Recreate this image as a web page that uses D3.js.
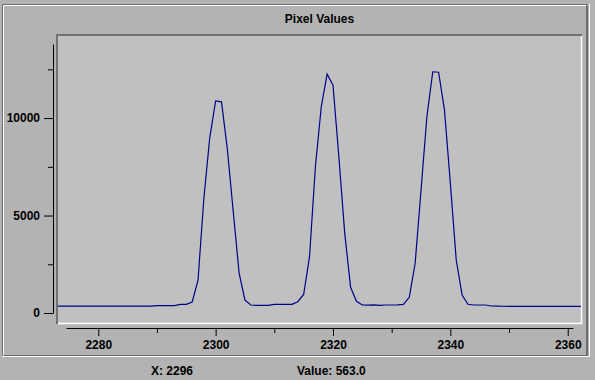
<!DOCTYPE html>
<html>
<head>
<meta charset="utf-8">
<script src="https://cdn.jsdelivr.net/npm/d3@7"></script>
<style>
body { margin: 0; background: #b3b3b3; }
text { font-family: "Liberation Sans", Arial, sans-serif; font-weight: bold; font-size: 12px; fill: #000; }
</style>
</head>
<body>
<svg id="chart" width="595" height="380"></svg>
<script>
// pixel column -> value, one entry per column starting at firstPixel
var firstPixel = 2273;
var pixelValues = [
    355, 355, 355, 355, 355, 355, 355, 355, 355, 355,   // 2273-2282
    355, 355, 355, 355, 355, 355, 355, 380, 380, 380,   // 2283-2292
    380, 446, 446, 563, 1690, 5900, 9000, 10880, 10830, 8400, // 2293-2302
    5200, 2050, 660, 410, 393, 393, 393, 440, 440, 440, // 2303-2312
    446, 580, 950, 2890, 7500, 10580, 12256, 11692, 8015, 4087, // 2313-2322
    1318, 600, 410, 400, 420, 390, 410, 410, 420, 446,  // 2323-2332
    805, 2550, 6300, 10070, 12375, 12350, 10410, 6650, 2718, 923, // 2333-2342
    446, 410, 410, 410, 360, 350, 345, 345, 345, 345,   // 2343-2352
    345, 345, 345, 345, 345, 345, 345, 345, 345, 345,   // 2353-2362
    345                                                 // 2363
];

var xTicks = [2280, 2300, 2320, 2340, 2360];
var xMinorTicks = [2290, 2310, 2330, 2350];
var yTicks = [0, 5000, 10000];
var yMinorTicks = [2500, 7500, 12500];

var chartTitle = "Pixel Values";
var cursorX = 2296;
var cursorValue = 563.0;

var svg = d3.select("#chart");

var data = pixelValues.map(function(v, i) { return { px: firstPixel + i, value: v }; });

var x = d3.scaleLinear().domain([2274.5, 2360.9]).range([66, 573]);
var y = d3.scaleLinear().domain([0, 13800]).range([313, 44]);

// outer etched frame
var frame = svg.append("g");
frame.append("rect").attr("x", 2.5).attr("y", 4.5).attr("width", 585).attr("height", 351)
    .attr("fill", "none").attr("stroke", "#6e6e6e");
frame.append("polyline").attr("points", "3.5,355.5 3.5,5.5 587.5,5.5")
    .attr("fill", "none").attr("stroke", "#ffffff");
frame.append("polyline").attr("points", "2,356.5 589.5,356.5 589.5,4")
    .attr("fill", "none").attr("stroke", "#ffffff");
frame.append("line").attr("x1", 586.5).attr("y1", 5).attr("x2", 586.5).attr("y2", 355)
    .attr("stroke", "#6e6e6e");

// title
svg.append("text")
    .attr("x", 319.5).attr("y", 23)
    .attr("text-anchor", "middle")
    .text(chartTitle);

// plot area
svg.append("rect").attr("x", 57).attr("y", 34).attr("width", 525).attr("height", 290)
    .attr("fill", "#c0c0c0");
svg.append("polyline").attr("points", "57,324 57,35 582,35")
    .attr("fill", "none").attr("stroke", "#717171").attr("stroke-width", 2);
svg.append("polyline").attr("points", "58,323.5 581.5,323.5 581.5,36")
    .attr("fill", "none").attr("stroke", "#ffffff").attr("stroke-width", 1.5);

svg.append("clipPath").attr("id", "plotClip")
  .append("rect").attr("x", 58).attr("y", 36).attr("width", 523).attr("height", 287);

var line = d3.line()
    .x(function(d) { return x(d.px); })
    .y(function(d) { return y(d.value); });

svg.append("path")
    .datum(data)
    .attr("clip-path", "url(#plotClip)")
    .attr("fill", "none")
    .attr("stroke", "#000088")
    .attr("stroke-width", 1.2)
    .attr("d", line);

// y axis
svg.append("g").attr("transform", "translate(53,0)")
    .call(d3.axisLeft(y).tickValues(yTicks).tickSize(9).tickSizeOuter(0).tickPadding(4)
        .tickFormat(d3.format("d")));
svg.append("g").attr("transform", "translate(53,0)")
    .call(d3.axisLeft(y).tickValues(yMinorTicks).tickSize(5).tickSizeOuter(0).tickFormat(""))
    .select(".domain").remove();

// x axis
svg.append("g").attr("transform", "translate(0,328)")
    .call(d3.axisBottom(x).tickValues(xTicks).tickSize(8).tickSizeOuter(0).tickPadding(4)
        .tickFormat(d3.format("d")));
svg.append("g").attr("transform", "translate(0,328)")
    .call(d3.axisBottom(x).tickValues(xMinorTicks).tickSize(5).tickSizeOuter(0).tickFormat(""))
    .select(".domain").remove();

svg.selectAll(".tick text")
    .attr("font-family", null).attr("font-size", null);

// status line
svg.append("text").attr("x", 151).attr("y", 375).text("X: " + cursorX);
svg.append("text").attr("x", 297).attr("y", 375).text("Value: " + cursorValue.toFixed(1));
</script>
</body>
</html>
